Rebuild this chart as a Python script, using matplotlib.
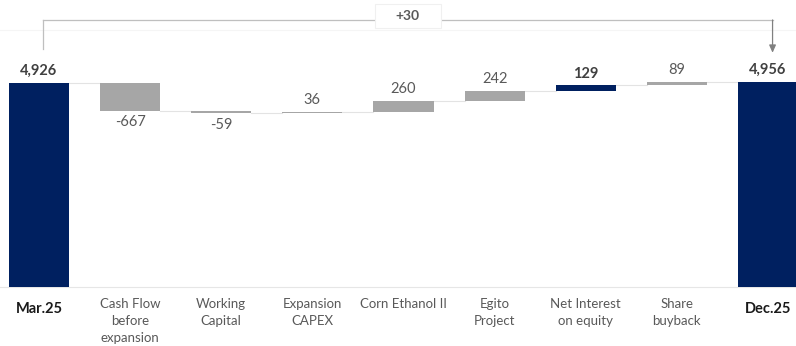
import matplotlib
matplotlib.use("Agg")
import matplotlib.pyplot as plt
import matplotlib.transforms as mtransforms
from matplotlib.patches import FancyBboxPatch

categories = ["Mar.25", "Cash Flow\nbefore\nexpansion", "Working\nCapital", "Expansion\nCAPEX",
              "Corn Ethanol II", "Egito\nProject", "Net Interest\non equity", "Share\nbuyback", "Dec.25"]
values = [4926, -667, -59, 36, 260, 242, 129, 89, 4956]
labels = ["4,926", "-667", "-59", "36", "260", "242", "129", "89", "4,956"]
is_total = [True, False, False, False, False, False, False, False, True]
highlight = [False, False, False, False, False, False, True, False, False]
change_label = "+30"

NAVY = "#002060"
GRAY = "#A6A6A6"
TXT = "#595959"
DARK = "#404040"

plt.rcParams['font.family'] = ['Lato', 'DejaVu Sans']

fig = plt.figure(figsize=(7.96, 3.46), dpi=100)
ax = fig.add_axes([0, 0, 1, 1])
ax.set_axis_off()

k = 204 / 4926.0  # px per unit
ax.set_xlim(-39 / 91.125, 8 + 28 / 91.125)
ax.set_ylim(-59 / k, 287 / k)

width = 0.66
cum = 0
bottoms, heights, ends = [], [], []
for v, t in zip(values, is_total):
    if t:
        bottoms.append(0); heights.append(v); cum = v
    else:
        start = cum
        cum = cum + v
        bottoms.append(min(start, cum)); heights.append(abs(v))
    ends.append(cum)

xs = list(range(len(values)))
colors = [NAVY if (t or h) else GRAY for t, h in zip(is_total, highlight)]
ax.bar(xs, heights, bottom=bottoms, width=width, color=colors, linewidth=0, zorder=3)

# connectors
for i in range(len(values) - 1):
    ax.plot([i + width / 2, i + 1 - width / 2], [ends[i], ends[i]], color="#E3E3E3", lw=0.8, zorder=2)

# baseline
ax.axhline(0, color="#E6E6E6", lw=0.8, zorder=1)

# value labels
for i, (v, lab, t, h) in enumerate(zip(values, labels, is_total, highlight)):
    top = bottoms[i] + heights[i]
    if t or h:
        ax.annotate(lab, (i, top), xytext=(0, 3.5), textcoords="offset points", ha="center", va="bottom",
                    fontsize=10.5, fontweight="bold", color=DARK)
    elif v < 0:
        ax.annotate(lab, (i, bottoms[i]), xytext=(0, -3.5), textcoords="offset points", ha="center", va="top",
                    fontsize=10.5, color=TXT)
    else:
        ax.annotate(lab, (i, top), xytext=(0, 3.5), textcoords="offset points", ha="center", va="bottom",
                    fontsize=10.5, color=TXT)

# category labels
trans = mtransforms.blended_transform_factory(ax.transData, fig.transFigure)
for i, (c, t) in enumerate(zip(categories, is_total)):
    if t:
        ax.text(i, 1 - 302 / 346, c, transform=trans, ha="center", va="top", fontsize=10.5,
                fontweight="bold", color="#1a1a1a")
    else:
        ax.text(i, 1 - 298 / 346, c, transform=trans, ha="center", va="top", fontsize=9.5,
                color=TXT, linespacing=1.5)

# bracket
ytop = 6448
ystart = max(ends) + 800
yend = max(ends) + 700
x0 = 0.044
x1 = len(values) - 1 + 0.05
xm = (x0 + x1) / 2
lc = "#BFBFBF"
ax.plot([x0, x0], [ystart, ytop], color=lc, lw=0.9, zorder=2)
ax.plot([x0, xm - 0.36], [ytop, ytop], color=lc, lw=0.9, zorder=2)
ax.plot([xm + 0.36, x1], [ytop, ytop], color=lc, lw=0.9, zorder=2)
ax.annotate("", xy=(x1, yend), xytext=(x1, ytop),
            arrowprops=dict(arrowstyle="-|>,head_length=0.45,head_width=0.2", color="#808080", lw=0.9,
                            shrinkA=0, shrinkB=0))
ax.plot([ax.get_xlim()[0], ax.get_xlim()[1]], [(287 - 30) / k] * 2, color="#F5F5F5", lw=0.8, zorder=0)
box = FancyBboxPatch((xm - 0.36, (287 - 28) / k), 0.72, 24 / k, boxstyle="square,pad=0",
                     facecolor="white", edgecolor="#F0F0F0", lw=0.8, zorder=3)
ax.add_patch(box)
ax.text(xm, (287 - 16) / k, change_label, ha="center", va="center", fontsize=10, fontweight="bold",
        color=TXT, zorder=4)

fig.savefig("out.png", dpi=100)
